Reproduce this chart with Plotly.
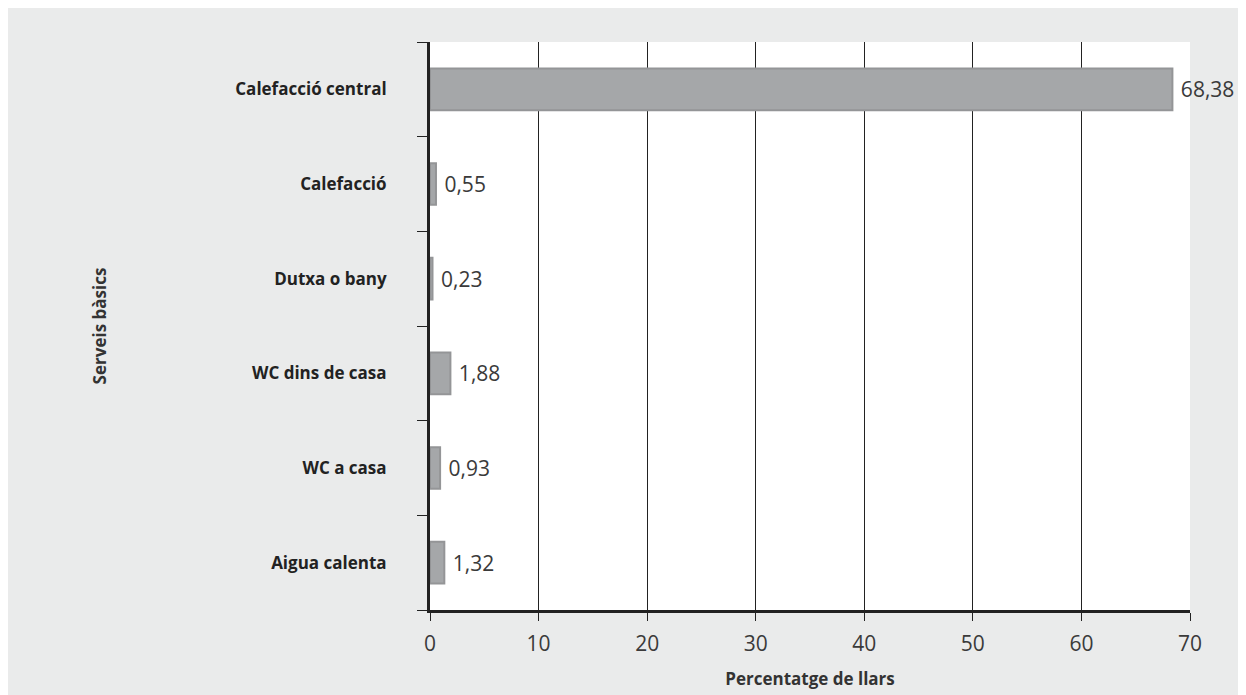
import plotly.graph_objects as go

categories = ["Calefacció central", "Calefacció", "Dutxa o bany",
              "WC dins de casa", "WC a casa", "Aigua calenta"]
values = [68.38, 0.55, 0.23, 1.88, 0.93, 1.32]
x_ticks = [0, 10, 20, 30, 40, 50, 60, 70]

labels = [" " + f"{v:.2f}".replace(".", ",") for v in values]

W, H = 1246, 695
L, R, T, B = 422, 64, 34, 93

BG = "#eaebeb"
FONT = "Open Sans, Noto Sans, sans-serif"

fig = go.Figure(go.Bar(
    y=categories, x=values, orientation="h",
    text=labels, textposition="outside", cliponaxis=False,
    textfont=dict(size=21, color="#3a3a3a", family=FONT),
    marker=dict(color="#a5a7a9", line=dict(color="#949597", width=2)),
    width=0.44,
))

fig.update_layout(
    width=W, height=H,
    margin=dict(l=L, r=R, t=T, b=B),
    paper_bgcolor=BG, plot_bgcolor="white",
    showlegend=False,
    font=dict(family=FONT, color="#333333"),
    xaxis=dict(
        range=[0, 70], tickvals=x_ticks, ticktext=[str(t) for t in x_ticks],
        showgrid=True, gridcolor="#222222", gridwidth=1,
        zeroline=False, showline=True, linecolor="#222222", linewidth=3,
        ticks="outside", ticklen=8, tickcolor="#222222", tickwidth=1,
        tickfont=dict(size=21, color="#3a3a3a"),
        ticklabelstandoff=5,
        title=dict(text="<b>Percentatge de llars</b>", font=dict(size=17, color="#333333"),
                   standoff=17),
    ),
    yaxis=dict(
        categoryorder="array", categoryarray=categories, autorange="reversed",
        tickson="boundaries", ticks="outside", ticklen=10, tickcolor="#222222", tickwidth=1,
        showline=True, linecolor="#222222", linewidth=3, showgrid=False,
        tickfont=dict(size=17, color="#222222"),
        tickvals=categories, ticktext=[f"<b>{c}</b>" for c in categories],
        ticklabelstandoff=37,
        title=dict(text="<b>Serveis bàsics</b>", font=dict(size=17, color="#333333"),
                   standoff=125),
    ),
)

fig.write_html("out.html")
